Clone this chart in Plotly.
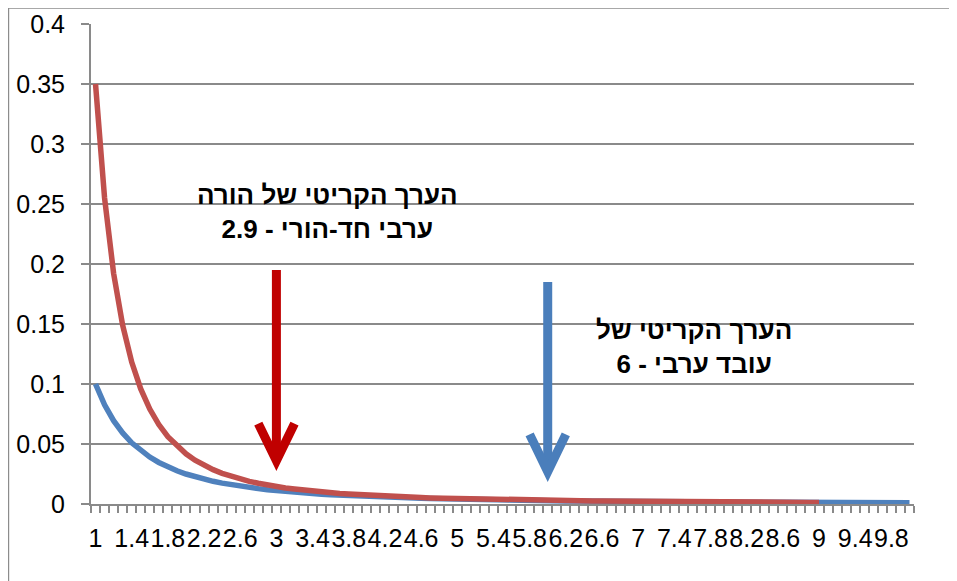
import plotly.graph_objects as go

# ---- data -------------------------------------------------------------
x_values = [1.0, 1.1, 1.2, 1.3, 1.4, 1.5, 1.6, 1.7, 1.8, 1.9,
            2.0, 2.1, 2.2, 2.3, 2.4, 2.5, 2.6, 2.7, 2.8, 2.9,
            3.0, 3.1, 3.2, 3.3, 3.4, 3.5, 3.6, 3.7, 3.8, 3.9,
            4.0, 4.1, 4.2, 4.3, 4.4, 4.5, 4.6, 4.7, 4.8, 4.9,
            5.0, 5.1, 5.2, 5.3, 5.4, 5.5, 5.6, 5.7, 5.8, 5.9,
            6.0, 6.1, 6.2, 6.3, 6.4, 6.5, 6.6, 6.7, 6.8, 6.9,
            7.0, 7.1, 7.2, 7.3, 7.4, 7.5, 7.6, 7.7, 7.8, 7.9,
            8.0, 8.1, 8.2, 8.3, 8.4, 8.5, 8.6, 8.7, 8.8, 8.9,
            9.0, 9.1, 9.2, 9.3, 9.4, 9.5, 9.6, 9.7, 9.8, 9.9, 10.0]

blue_values = [0.1000, 0.0826, 0.0694, 0.0592, 0.0510, 0.0444, 0.0391, 0.0346, 0.0309, 0.0277,
               0.0250, 0.0227, 0.0207, 0.0189, 0.0174, 0.0160, 0.0148, 0.0137, 0.0128, 0.0119,
               0.0111, 0.0104, 0.0098, 0.0092, 0.0087, 0.0082, 0.0077, 0.0073, 0.0069, 0.0066,
               0.0063, 0.0059, 0.0057, 0.0054, 0.0052, 0.0049, 0.0047, 0.0045, 0.0043, 0.0042,
               0.0040, 0.0038, 0.0037, 0.0036, 0.0034, 0.0033, 0.0032, 0.0031, 0.0030, 0.0029,
               0.0028, 0.0027, 0.0026, 0.0025, 0.0024, 0.0024, 0.0023, 0.0022, 0.0022, 0.0021,
               0.0020, 0.0020, 0.0019, 0.0019, 0.0018, 0.0018, 0.0017, 0.0017, 0.0016, 0.0016,
               0.0016, 0.0015, 0.0015, 0.0015, 0.0014, 0.0014, 0.0014, 0.0013, 0.0013, 0.0013,
               0.0012, 0.0012, 0.0012, 0.0012, 0.0011, 0.0011, 0.0011, 0.0011, 0.0010, 0.0010, 0.0010]

red_values = [0.3500, 0.2550, 0.1922, 0.1490, 0.1183, 0.0959, 0.0791, 0.0662, 0.0561, 0.0482,
              0.0418, 0.0365, 0.0322, 0.0286, 0.0256, 0.0230, 0.0208, 0.0189, 0.0173, 0.0158,
              0.0146, 0.0134, 0.0125, 0.0116, 0.0108, 0.0100, 0.0094, 0.0088, 0.0083, 0.0078,
              0.0074, 0.0070, 0.0066, 0.0063, 0.0059, 0.0057, 0.0054, 0.0051, 0.0049, 0.0047,
              0.0045, 0.0043, 0.0041, 0.0039, 0.0038, 0.0036, 0.0035, 0.0034, 0.0032, 0.0031,
              0.0030, 0.0029, 0.0028, 0.0027, 0.0026, 0.0025, 0.0025, 0.0024, 0.0023, 0.0022,
              0.0022, 0.0021, 0.0020, 0.0020, 0.0019, 0.0019, 0.0018, 0.0018, 0.0017, 0.0017,
              0.0016, 0.0016, 0.0016, 0.0015, 0.0015, 0.0014, 0.0014, 0.0014, 0.0013, 0.0013,
              0.0013]

x_tick_vals = [1.0, 1.4, 1.8, 2.2, 2.6, 3.0, 3.4, 3.8, 4.2, 4.6, 5.0, 5.4,
               5.8, 6.2, 6.6, 7.0, 7.4, 7.8, 8.2, 8.6, 9.0, 9.4, 9.8]
x_tick_text = ["1", "1.4", "1.8", "2.2", "2.6", "3", "3.4", "3.8", "4.2", "4.6", "5", "5.4",
               "5.8", "6.2", "6.6", "7", "7.4", "7.8", "8.2", "8.6", "9", "9.4", "9.8"]

# critical values marked with arrows
red_arrow_x = 3.0
red_arrow_top, red_arrow_tip = 0.195, 0.036
blue_arrow_x = 6.0
blue_arrow_top, blue_arrow_tip = 0.185, 0.027

label_red = "הערך הקריטי של הורה<br>ערבי חד-הורי - 2.9"
label_blue = "הערך הקריטי של<br>עובד ערבי - 6"

# ---- style ------------------------------------------------------------
RED = "#C0504D"
BLUE = "#4F81BD"
ARROW_RED = "#C00000"
ARROW_BLUE = "#4A7EBB"
GRID = "#8A8A8A"
FONT = "Liberation Sans, Arial, sans-serif"
TICK_SIZE = 25

fig = go.Figure()
fig.add_trace(go.Scatter(x=x_values, y=blue_values, mode="lines",
                         line=dict(color=BLUE, width=5.5), hoverinfo="skip"))
fig.add_trace(go.Scatter(x=x_values[:len(red_values)], y=red_values, mode="lines",
                         line=dict(color=RED, width=5.5), hoverinfo="skip"))

shapes = []
# outer chart frame
shapes.append(dict(type="rect", xref="paper", yref="paper",
                   x0=-0.1003, x1=1.3, y0=-0.3, y1=1.0333,
                   line=dict(color="#8C8C8C", width=1.5), layer="below"))


def arrow(xc, top, tip, color, half_w=0.2, head_h=0.031):
    return [
        dict(type="line", xref="x", yref="y", x0=xc, x1=xc, y0=top, y1=tip + 0.004,
             line=dict(color=color, width=9)),
        dict(type="path", xref="x", yref="y",
             path=f"M {xc - half_w},{tip + head_h} L {xc},{tip} L {xc + half_w},{tip + head_h}",
             line=dict(color=color, width=9)),
    ]


shapes += arrow(red_arrow_x, red_arrow_top, red_arrow_tip, ARROW_RED)
shapes += arrow(blue_arrow_x, blue_arrow_top, blue_arrow_tip, ARROW_BLUE)

annotations = [
    dict(x=3.56, y=0.243, xref="x", yref="y", text=label_red, showarrow=False,
         font=dict(family=FONT, size=26, color="black", weight="bold"), align="center"),
    dict(x=7.62, y=0.131, xref="x", yref="y", text=label_blue, showarrow=False,
         font=dict(family=FONT, size=26, color="black", weight="bold"), align="center"),
]

fig.update_layout(
    width=949, height=573,
    margin=dict(l=83, r=43, t=16, b=76.5),
    paper_bgcolor="white", plot_bgcolor="white",
    showlegend=False,
    font=dict(family=FONT, size=TICK_SIZE, color="black"),
    shapes=shapes,
    annotations=annotations,
)

fig.update_xaxes(
    range=[0.95, 10.05], automargin=False,
    tickmode="array", tickvals=x_tick_vals, ticktext=x_tick_text,
    tickangle=0,
    ticks="", showgrid=False, zeroline=False,
    showline=True, linecolor=GRID, linewidth=2,
    tickfont=dict(family=FONT, size=TICK_SIZE, color="black"),
    ticklabelstandoff=11,
    minor=dict(tickmode="linear", tick0=0.95, dtick=0.1, ticks="outside",
               ticklen=7, tickcolor=GRID, tickwidth=1.5, showgrid=False),
)
fig.update_yaxes(
    range=[0, 0.4], dtick=0.05, tick0=0, automargin=False,
    showgrid=True, gridcolor=GRID, gridwidth=1.5,
    zeroline=False,
    showline=True, linecolor=GRID, linewidth=2,
    ticks="outside", ticklen=8, tickcolor=GRID, tickwidth=1.5,
    tickfont=dict(family=FONT, size=TICK_SIZE, color="black"),
    ticklabelstandoff=11,
)

fig.write_html("out.html")
